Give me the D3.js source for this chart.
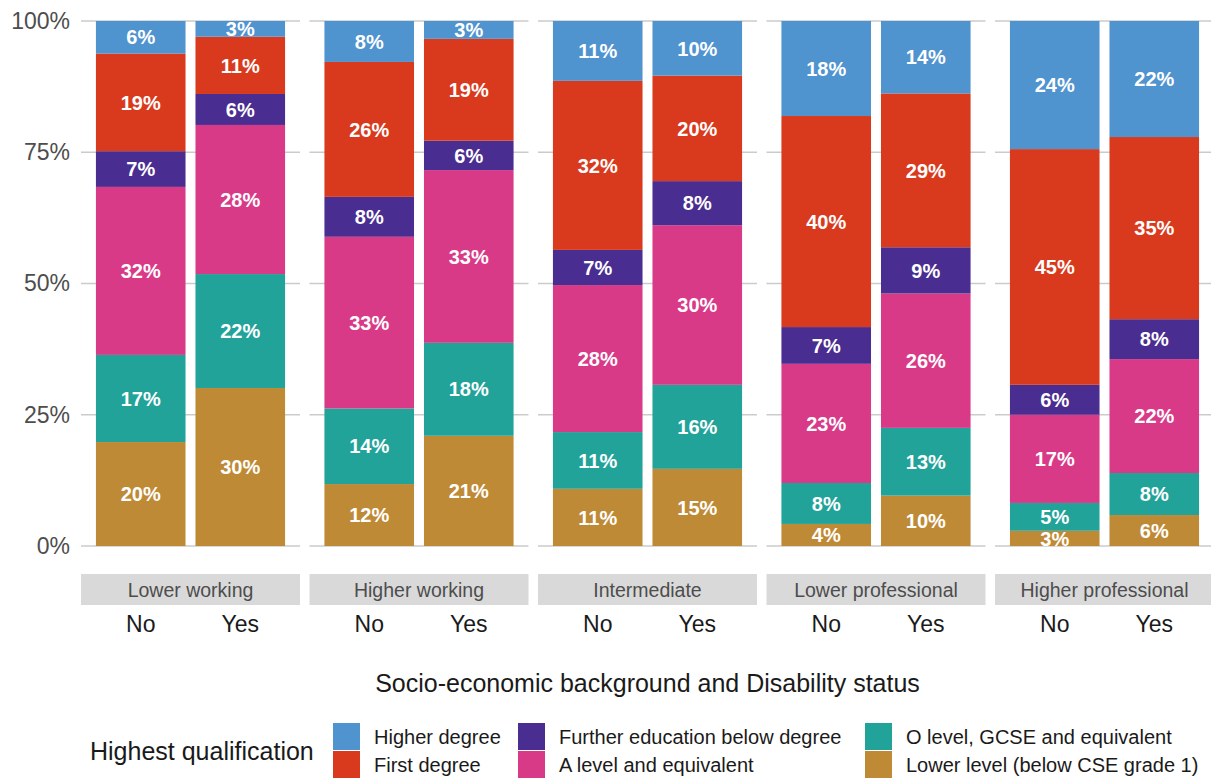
<!DOCTYPE html>
<html><head><meta charset="utf-8">
<script src="https://cdn.jsdelivr.net/npm/d3@7"></script>
<style>html,body{margin:0;padding:0;background:#fff;}svg{display:block;font-family:"Liberation Sans",Arial,sans-serif;}</style>
</head><body>
<script>
const categories = ["Lower working","Higher working","Intermediate","Lower professional","Higher professional"];
const disability = ["No","Yes"];
const qualifications = ["Higher degree","First degree","Further education below degree","A level and equivalent","O level, GCSE and equivalent","Lower level (below CSE grade 1)"];
const colours = ["#4f93cf","#d93a1d","#4a2d90","#d93a88","#21a39a","#bf8a36"];
// values (%) in order: LW No, LW Yes, HW No, HW Yes, Int No, Int Yes, LP No, LP Yes, HP No, HP Yes
const higherDegree = [6.2,3.0,7.8,3.4,11.4,10.4,18.1,13.8,24.4,22.1];
const firstDegree  = [18.6,10.9,25.7,19.4,32.2,20.1,40.2,29.3,44.9,34.7];
const furtherEd    = [6.8,5.9,7.6,5.6,6.7,8.4,7.0,8.8,5.7,7.6];
const aLevel       = [32.0,28.4,32.7,32.9,28.0,30.4,22.7,25.6,16.8,21.7];
const oLevel       = [16.6,21.7,14.4,17.7,10.8,16.0,7.8,12.9,5.3,8.0];
const lowerLevel   = [19.8,30.1,11.8,21.0,10.9,14.7,4.2,9.6,2.9,5.9];
const yTicks = [0,0.25,0.5,0.75,1];
const legendTitle = "Highest qualification";
const xTitle = "Socio-economic background and Disability status";

const seriesByQual = [higherDegree, firstDegree, furtherEd, aLevel, oLevel, lowerLevel];
const rows = [];
categories.forEach((c,ci)=>disability.forEach((d,di)=>{
  const r = {cat:c, dis:d};
  qualifications.forEach((q,qi)=>{ r[q] = seriesByQual[qi][ci*2+di]/100; });
  rows.push(r);
}));
const stackKeys = qualifications.slice().reverse();
const stacked = d3.stack().keys(stackKeys)(rows);
const colour = d3.scaleOrdinal().domain(qualifications).range(colours);

const W=1211,H=780;
const svg = d3.select("body").append("svg").attr("width",W).attr("height",H);
const y = d3.scaleLinear().domain([0,1]).range([546,21]);
const xPanel = d3.scaleBand().domain(categories).range([81,1214]).paddingInner(0.0416).paddingOuter(0);
const pw = xPanel.bandwidth();
const xIn = d3.scaleBand().domain(disability).range([0,pw]).paddingInner(0.1).paddingOuter(0.15);

// y axis
const yAxis = svg.append("g").attr("transform","translate(81,0)")
  .call(d3.axisLeft(y).tickValues(yTicks).tickFormat(d3.format(".0%")).tickSize(0).tickPadding(11));
yAxis.select(".domain").remove();
yAxis.selectAll("text").attr("font-size",23).attr("fill","#4d4d4d").attr("font-family","Liberation Sans, Arial, sans-serif");

const defs = svg.append("defs");
categories.forEach((c,ci)=>{
  const g = svg.append("g").attr("transform",`translate(${xPanel(c)},0)`);
  // grid
  g.selectAll("line.grid").data(yTicks).join("line").attr("class","grid")
    .attr("x1",0).attr("x2",pw).attr("y1",d=>y(d)).attr("y2",d=>y(d))
    .attr("stroke","#cbcbcb").attr("stroke-width",1.4);
  defs.append("clipPath").attr("id","clip"+ci).append("rect")
    .attr("x",0).attr("y",y(1)).attr("width",pw).attr("height",y(0)-y(1));
  const pg = g.append("g").attr("clip-path",`url(#clip${ci})`);
  stacked.forEach(layer=>{
    const key = layer.key;
    const segs = layer.filter(s=>s.data.cat===c);
    pg.selectAll(null).data(segs).join("rect")
      .attr("x",s=>xIn(s.data.dis)).attr("width",xIn.bandwidth())
      .attr("y",s=>y(s[1])).attr("height",s=>y(s[0])-y(s[1]))
      .attr("fill",colour(key));
    pg.selectAll(null).data(segs).join("text")
      .attr("x",s=>xIn(s.data.dis)+xIn.bandwidth()/2)
      .attr("y",s=>y((s[0]+s[1])/2))
      .attr("dy","0.36em").attr("text-anchor","middle")
      .attr("font-size",20).attr("font-weight","bold").attr("fill","#ffffff")
      .text(s=>Math.round((s[1]-s[0])*100)+"%");
  });
  // strip
  g.append("rect").attr("x",0).attr("y",574).attr("width",pw).attr("height",31).attr("fill","#d9d9d9");
  g.append("text").attr("x",pw/2).attr("y",590).attr("dy","0.36em").attr("text-anchor","middle")
    .attr("font-size",19.5).attr("fill","#4d4d4d").text(c);
  // x axis labels
  const xa = g.append("g").attr("transform","translate(0,606)")
    .call(d3.axisBottom(xIn).tickSize(0).tickPadding(10));
  xa.select(".domain").remove();
  xa.selectAll("text").attr("font-size",23).attr("fill","#1a1a1a").attr("font-family","Liberation Sans, Arial, sans-serif");
});

svg.append("text").attr("x",(81+1214)/2).attr("y",692).attr("text-anchor","middle")
  .attr("font-size",25).attr("fill","#1a1a1a").text(xTitle);

// legend
const lg = svg.append("g");
lg.append("text").attr("x",90).attr("y",751).attr("dy","0.36em").attr("font-size",25).attr("fill","#1a1a1a").text(legendTitle);
const colX = [333,518,865];
qualifications.forEach((q,i)=>{
  const col = Math.floor(i/2), row = i%2;
  const kx = colX[col], ky = 723 + row*28;
  lg.append("rect").attr("x",kx).attr("y",ky).attr("width",27).attr("height",27).attr("fill",colour(q));
  lg.append("text").attr("x",kx+41).attr("y",ky+13.5).attr("dy","0.36em").attr("font-size",20).attr("fill","#1a1a1a").text(q);
});
</script>
</body></html>
